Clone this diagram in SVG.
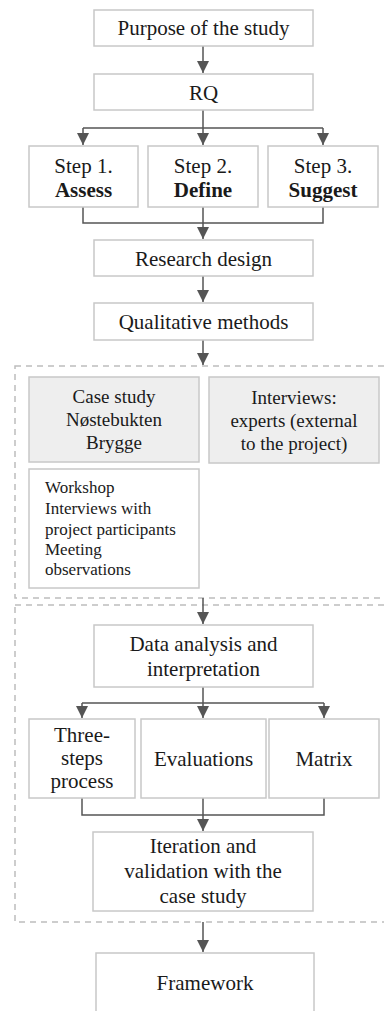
<svg xmlns="http://www.w3.org/2000/svg" width="384" height="1011" viewBox="0 0 384 1011" font-family="Liberation Serif, serif">
<defs>
<marker id="ah" viewBox="0 0 12 12" refX="12" refY="6" markerWidth="12" markerHeight="12" orient="auto" markerUnits="userSpaceOnUse">
<path d="M0,0 L12,6 L0,12 z" fill="#555"/>
</marker>
<style>
text{font-family:"Liberation Serif",serif;fill:#1a1a1a}
.box{fill:#fff;stroke:#c8c8c8;stroke-width:1.5}
.gbox{fill:#eeeeee;stroke:#c8c8c8;stroke-width:1.5}
.cont{fill:none;stroke:#bdbdbd;stroke-width:1.5;stroke-dasharray:6 5}
.c{fill:none;stroke:#555;stroke-width:1.5}
.t{font-size:21px;text-anchor:middle}
.m{font-size:19px}
.s{font-size:17px}
.b{font-weight:bold}
</style>
</defs>
<rect class="cont" x="15" y="366" width="380" height="232"/>
<rect class="cont" x="15" y="605" width="380" height="317"/>
<g id="connectors">
<line class="c" x1="203" y1="46" x2="203" y2="73" marker-end="url(#ah)"/>
<line class="c" x1="203" y1="110" x2="203" y2="128"/>
<line class="c" x1="83" y1="128" x2="323" y2="128"/>
<line class="c" x1="83" y1="128" x2="83" y2="145" marker-end="url(#ah)"/>
<line class="c" x1="203" y1="128" x2="203" y2="145" marker-end="url(#ah)"/>
<line class="c" x1="323" y1="128" x2="323" y2="145" marker-end="url(#ah)"/>
<polyline class="c" points="83,207 83,223 323,223 323,207"/>
<line class="c" x1="203" y1="207" x2="203" y2="239" marker-end="url(#ah)"/>
<line class="c" x1="203" y1="276" x2="203" y2="302" marker-end="url(#ah)"/>
<line class="c" x1="203" y1="340" x2="203" y2="365" marker-end="url(#ah)"/>
<line class="c" x1="203" y1="598" x2="203" y2="624" marker-end="url(#ah)"/>
<line class="c" x1="203" y1="687" x2="203" y2="703"/>
<line class="c" x1="82" y1="703" x2="324" y2="703"/>
<line class="c" x1="82" y1="703" x2="82" y2="718" marker-end="url(#ah)"/>
<line class="c" x1="203" y1="703" x2="203" y2="718" marker-end="url(#ah)"/>
<line class="c" x1="324" y1="703" x2="324" y2="718" marker-end="url(#ah)"/>
<polyline class="c" points="82,798 82,815 324,815 324,798"/>
<line class="c" x1="203" y1="798" x2="203" y2="831" marker-end="url(#ah)"/>
<line class="c" x1="203" y1="922" x2="203" y2="952" marker-end="url(#ah)"/>
</g>
<g id="purpose"><rect class="box" x="94" y="10" width="219" height="36"/><text class="t" x="203.5" y="35">Purpose of the study</text></g>
<g id="rq"><rect class="box" x="94" y="74" width="219" height="36"/><text class="t" x="203.5" y="100">RQ</text></g>
<g id="step1"><rect class="box" x="29" y="146" width="109" height="61"/><text class="t" x="83.5" y="173">Step 1.</text><text class="t b" x="83.5" y="197">Assess</text></g>
<g id="step2"><rect class="box" x="148" y="146" width="110" height="61"/><text class="t" x="203" y="173">Step 2.</text><text class="t b" x="203" y="197">Define</text></g>
<g id="step3"><rect class="box" x="268" y="146" width="110" height="61"/><text class="t" x="323" y="173">Step 3.</text><text class="t b" x="323" y="197">Suggest</text></g>
<g id="research"><rect class="box" x="94" y="240" width="219" height="36"/><text class="t" x="203.5" y="266">Research design</text></g>
<g id="qualitative"><rect class="box" x="94" y="303" width="219" height="37"/><text class="t" x="203.5" y="329">Qualitative methods</text></g>
<g id="casestudy"><rect class="gbox" x="29" y="377" width="170" height="85"/><text class="t m" x="114" y="403">Case study</text><text class="t m" x="114" y="426">N&#248;stebukten</text><text class="t m" x="114" y="449">Brygge</text></g>
<g id="interviews"><rect class="gbox" x="209" y="377" width="170" height="86"/><text class="t m" x="294" y="404">Interviews:</text><text class="t m" x="294" y="427">experts (external</text><text class="t m" x="294" y="450">to the project)</text></g>
<g id="workshop"><rect class="box" x="29" y="469" width="170" height="119"/><text class="s" x="45" y="493">Workshop</text><text class="s" x="45" y="514">Interviews with</text><text class="s" x="45" y="535">project participants</text><text class="s" x="45" y="555">Meeting</text><text class="s" x="45" y="575">observations</text></g>
<g id="analysis"><rect class="box" x="94" y="625" width="219" height="62"/><text class="t" x="203.5" y="651">Data analysis and</text><text class="t" x="203.5" y="676">interpretation</text></g>
<g id="threesteps"><rect class="box" x="29" y="719" width="106" height="79"/><text class="t" x="82" y="742">Three-</text><text class="t" x="82" y="765">steps</text><text class="t" x="82" y="788">process</text></g>
<g id="evaluations"><rect class="box" x="141" y="719" width="125" height="79"/><text class="t" x="203.5" y="766">Evaluations</text></g>
<g id="matrix"><rect class="box" x="269" y="719" width="110" height="79"/><text class="t" x="324" y="766">Matrix</text></g>
<g id="iteration"><rect class="box" x="93" y="832" width="220" height="79"/><text class="t" x="203" y="853">Iteration and</text><text class="t" x="203" y="878">validation with the</text><text class="t" x="203" y="903">case study</text></g>
<g id="framework"><rect class="box" x="96" y="953" width="218" height="70"/><text class="t" x="205" y="990">Framework</text></g>
</svg>
